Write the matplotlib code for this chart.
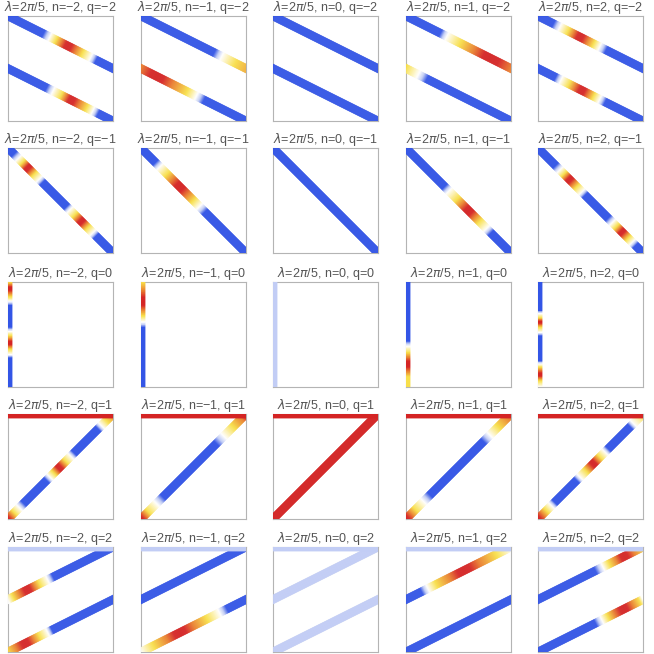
import numpy as np
import matplotlib
matplotlib.use("Agg")
import matplotlib.pyplot as plt
from matplotlib.collections import LineCollection
from matplotlib.colors import LinearSegmentedColormap

plt.rcParams['font.family'] = ['Liberation Sans', 'DejaVu Sans']
plt.rcParams['mathtext.fontset'] = 'dejavusans'

# colour levels along the lines (0 blue ... 1 red)
B, L, W, Y, O, R = 0.0, 0.25, 0.5, 0.65, 0.8, 1.0

n_values = [-2, -1, 0, 1, 2]
q_values = [-2, -1, 0, 1, 2]

# line end points inside a unit panel, per q
lines_q_m2 = [((0, 1), (1, 0.5)), ((0, 0.5), (1, 0))]
lines_q_m1 = [((0, 1), (1, 0))]
lines_q_0 = [((0, 0), (0, 1))]
lines_q_1 = [((0, 0), (1, 1)), ((0, 1), (1, 1))]
lines_q_2 = [((0, 0.5), (1, 1)), ((0, 0), (1, 0.5)), ((0, 1), (1, 1))]

# colour stops (position along line, level), one list per n = -2..2
q_m2_upper = [
    [(0, B), (0.34, B), (0.4, W), (0.46, Y), (0.57, R), (0.65, O), (0.71, Y), (0.79, W), (0.84, B), (1, B)],
    [(0, B), (0.7, B), (0.77, W), (0.9, Y), (1, 0.72)],
    [(0, B), (1, B)],
    [(0, B), (0.33, B), (0.39, W), (0.52, Y), (0.65, O), (0.8, R), (1, O)],
    [(0, B), (0.15, B), (0.21, W), (0.29, Y), (0.4, R), (0.53, Y), (0.59, W), (0.65, B), (1, B)],
]
q_m2_lower = [
    [(0, B), (0.37, B), (0.43, W), (0.51, Y), (0.6, R), (0.68, O), (0.75, Y), (0.81, W), (0.86, B), (1, B)],
    [(0, O), (0.15, R), (0.3, O), (0.44, Y), (0.53, W), (0.6, B), (1, B)],
    [(0, B), (1, B)],
    [(0, Y), (0.12, W), (0.2, B), (1, B)],
    [(0, B), (0.17, B), (0.22, W), (0.3, Y), (0.42, R), (0.53, Y), (0.59, W), (0.64, B), (1, B)],
]
q_m1_diag = [
    [(0, B), (0.06, B), (0.1, W), (0.14, Y), (0.19, R), (0.25, Y), (0.3, W), (0.33, B),
     (0.56, B), (0.59, W), (0.64, Y), (0.7, R), (0.76, Y), (0.81, W), (0.84, B), (1, B)],
    [(0, B), (0.14, B), (0.18, W), (0.25, Y), (0.37, R), (0.5, Y), (0.56, W), (0.61, B), (1, B)],
    [(0, B), (1, B)],
    [(0, B), (0.37, B), (0.41, W), (0.49, Y), (0.6, R), (0.7, Y), (0.77, W), (0.81, B), (1, B)],
    [(0, B), (0.17, B), (0.21, W), (0.25, Y), (0.3, R), (0.37, Y), (0.42, W), (0.45, B),
     (0.67, B), (0.71, W), (0.75, Y), (0.8, R), (0.86, Y), (0.9, W), (0.93, B), (1, B)],
]
q_0_vert = [
    [(0, B), (0.28, B), (0.31, W), (0.36, Y), (0.42, R), (0.49, Y), (0.53, W), (0.57, B),
     (0.78, B), (0.82, W), (0.86, Y), (0.94, R), (1, Y)],
    [(0, B), (0.57, B), (0.62, W), (0.68, Y), (0.81, R), (0.92, O), (1, Y)],
    [(0, L), (1, L)],
    [(0, Y), (0.1, Y), (0.22, R), (0.33, Y), (0.39, W), (0.44, B), (1, B)],
    [(0, W), (0.06, Y), (0.12, R), (0.19, Y), (0.22, W), (0.25, B), (0.49, B), (0.52, W),
     (0.57, Y), (0.62, R), (0.66, Y), (0.7, W), (0.73, B), (1, B)],
]
q_1_diag = [
    [(0, R), (0.06, Y), (0.11, W), (0.15, B), (0.37, B), (0.4, W), (0.44, Y), (0.49, R),
     (0.55, Y), (0.6, W), (0.63, B), (0.86, B), (0.89, W), (0.94, Y), (1, O)],
    [(0, R), (0.07, Y), (0.15, W), (0.21, B), (0.72, B), (0.79, W), (0.88, Y), (0.96, O), (1, R)],
    [(0, R), (1, R)],
    [(0, R), (0.09, Y), (0.17, W), (0.23, B), (0.74, B), (0.8, W), (0.88, Y), (0.97, O), (1, O)],
    [(0, R), (0.08, Y), (0.13, W), (0.16, B), (0.37, B), (0.4, W), (0.46, Y), (0.53, R),
     (0.59, Y), (0.64, W), (0.67, B), (0.88, B), (0.91, W), (1, Y)],
]
q_1_top = [[(0, R), (1, R)]] * 5
q_2_upper = [
    [(0, W), (0.05, Y), (0.11, O), (0.19, R), (0.3, Y), (0.38, W), (0.43, B), (1, B)],
    [(0, B), (1, B)],
    [(0, L), (1, L)],
    [(0, B), (0.15, B), (0.21, W), (0.29, Y), (0.42, O), (0.55, R), (0.7, O), (0.86, Y), (1, W)],
    [(0, B), (0.55, B), (0.62, W), (0.68, Y), (0.75, O), (0.82, R), (0.91, O), (1, Y)],
]
q_2_lower = [
    [(0, Y), (0.08, O), (0.17, R), (0.3, Y), (0.38, W), (0.42, B), (1, B)],
    [(0, W), (0.12, Y), (0.25, O), (0.37, R), (0.5, O), (0.63, Y), (0.75, W), (0.82, B), (1, B)],
    [(0, L), (1, L)],
    [(0, B), (1, B)],
    [(0, B), (0.55, B), (0.61, W), (0.67, Y), (0.73, O), (0.82, R), (0.9, O), (0.97, Y), (1, W)],
]
q_2_top = [[(0, L), (1, L)]] * 5

rows = [
    (lines_q_m2, [q_m2_upper, q_m2_lower]),
    (lines_q_m1, [q_m1_diag]),
    (lines_q_0, [q_0_vert]),
    (lines_q_1, [q_1_diag, q_1_top]),
    (lines_q_2, [q_2_upper, q_2_lower, q_2_top]),
]

cmap = LinearSegmentedColormap.from_list("temp", [
    (0.0, "#3355e6"), (0.25, "#c2cdf5"), (0.5, "#ffffff"),
    (0.65, "#f8e04a"), (0.8, "#ea8030"), (0.92, "#d62626"), (1.0, "#d42424")])


def fmt(v):
    return str(v).replace("-", "\u2212")


def draw_line(ax, p0, p1, stops):
    p0 = np.array(p0, float)
    d = np.array(p1, float) - p0
    ext = 0.045 / np.hypot(*d)
    t = np.linspace(-ext, 1 + ext, 400)
    vals = np.interp(t, [s[0] for s in stops], [s[1] for s in stops])
    pts = p0[None, :] + t[:, None] * d[None, :]
    segs = np.stack([pts[:-2], pts[2:]], axis=1)
    lc = LineCollection(segs, colors=cmap(vals[1:-1]), linewidths=6.1,
                        capstyle='butt', zorder=3)
    ax.add_collection(lc)


fig = plt.figure(figsize=(6.54, 6.54), dpi=100)
lefts = [8, 141, 273, 406, 538]
tops = [16, 148, 282, 414, 547]
size = 105

for r, q in enumerate(q_values):
    geoms, stop_sets = rows[r]
    for c, n in enumerate(n_values):
        ax = fig.add_axes([lefts[c] / 654, 1 - (tops[r] + size) / 654, size / 654, size / 654])
        for (p0, p1), stops in zip(geoms, stop_sets):
            draw_line(ax, p0, p1, stops[c])
        ax.set_xlim(0, 1)
        ax.set_ylim(0, 1)
        ax.set_xticks([])
        ax.set_yticks([])
        for sp in ax.spines.values():
            sp.set_color("#b4b4b4")
            sp.set_linewidth(0.8)
        ax.set_title(r"$\lambda$=2$\pi$/5, n=" + fmt(n) + ", q=" + fmt(q),
                     fontsize=9, color="#555555", pad=2.5)

fig.savefig("out.png", dpi=100)
